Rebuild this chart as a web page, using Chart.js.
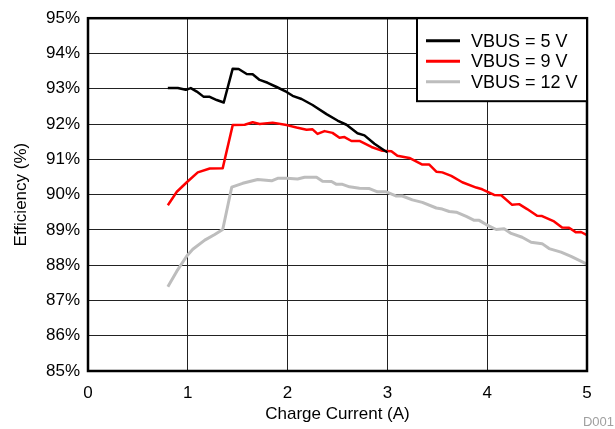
<!DOCTYPE html>
<html>
<head>
<meta charset="utf-8">
<script src="https://cdn.jsdelivr.net/npm/chart.js@4.4.1/dist/chart.umd.min.js"></script>
<style>
html,body{margin:0;padding:0;background:#fff;}
#wrap{width:615px;height:429px;position:relative;}
</style>
</head>
<body>
<div id="wrap"><canvas id="c" width="615" height="429"></canvas></div>
<script>
// ---- data ----
const seriesLabels = ["VBUS = 5 V", "VBUS = 9 V", "VBUS = 12 V"];

const x5V = [0.8,0.9,0.98,1.03,1.09,1.16,1.22,1.29,1.36,1.45,1.51,1.59,1.65,1.72,1.80,1.89,1.99,2.05,2.14,2.25,2.39,2.50,2.59,2.70,2.77,2.87,2.97,3.0];
const y5V = [93.02,93.02,92.97,93.02,92.92,92.77,92.77,92.68,92.61,93.57,93.56,93.42,93.41,93.25,93.17,93.05,92.91,92.80,92.71,92.54,92.28,92.10,91.98,91.74,91.68,91.44,91.25,91.2];

const x9V = [0.8,0.89,0.99,1.10,1.22,1.35,1.45,1.57,1.65,1.72,1.85,1.99,2.09,2.19,2.25,2.30,2.37,2.45,2.52,2.57,2.64,2.72,2.84,2.95,3.04,3.10,3.22,3.35,3.42,3.49,3.55,3.64,3.75,3.89,3.95,4.07,4.14,4.25,4.32,4.40,4.50,4.55,4.67,4.75,4.82,4.89,4.94,5.0];
const y9V = [89.7,90.08,90.35,90.63,90.74,90.75,91.97,91.98,92.05,92.0,92.04,91.97,91.9,91.84,91.85,91.72,91.80,91.75,91.61,91.63,91.52,91.52,91.35,91.24,91.23,91.10,91.04,90.85,90.85,90.65,90.63,90.53,90.35,90.2,90.15,89.99,89.98,89.71,89.73,89.59,89.40,89.39,89.24,89.07,89.06,88.93,88.94,88.85];

const x12V = [0.8,0.89,0.99,1.05,1.17,1.27,1.35,1.44,1.55,1.70,1.84,1.90,1.99,2.10,2.17,2.29,2.35,2.44,2.49,2.55,2.62,2.72,2.82,2.90,2.99,3.09,3.15,3.25,3.35,3.49,3.55,3.62,3.69,3.79,3.87,3.92,3.99,4.09,4.17,4.24,4.35,4.44,4.55,4.62,4.74,4.84,5.0];
const y12V = [87.39,87.83,88.26,88.45,88.71,88.87,89.01,90.21,90.32,90.43,90.39,90.46,90.46,90.44,90.49,90.49,90.38,90.37,90.29,90.29,90.22,90.18,90.17,90.08,90.08,89.96,89.96,89.85,89.78,89.62,89.59,89.52,89.50,89.38,89.27,89.27,89.15,89.01,89.03,88.90,88.79,88.65,88.61,88.47,88.37,88.25,88.03];

const xTitle = "Charge Current (A)";
const yTitle = "Efficiency (%)";
const xMin = 0, xMax = 5, yMin = 85, yMax = 95;
const footnote = "D001";

const zip = (xs, ys) => xs.map((x, i) => ({x: x, y: ys[i]}));

const FONT = "'Liberation Sans', Arial, Helvetica, sans-serif";

const frameLegendPlugin = {
  id: 'frameLegend',
  afterDraw(chart) {
    const ctx = chart.ctx;
    const a = chart.chartArea;
    ctx.save();
    // plot frame
    ctx.strokeStyle = '#000';
    ctx.lineWidth = 2.5;
    ctx.strokeRect(a.left, a.top, a.right - a.left, a.bottom - a.top);
    // legend box (top-right inside plot)
    const bw = 170, bh = 83;
    const bx = a.right - bw, by = a.top;
    ctx.fillStyle = '#fff';
    ctx.fillRect(bx, by, bw, bh);
    ctx.lineWidth = 2;
    ctx.strokeRect(bx, by, bw, bh);
    ctx.font = "18px " + FONT;
    ctx.textBaseline = 'middle';
    ctx.textAlign = 'left';
    chart.data.datasets.forEach((ds, i) => {
      const yy = by + 22.5 + i * 20.5;
      ctx.strokeStyle = ds.borderColor;
      ctx.lineWidth = 3;
      ctx.beginPath();
      ctx.moveTo(bx + 9, yy);
      ctx.lineTo(bx + 43, yy);
      ctx.stroke();
      ctx.fillStyle = '#000';
      ctx.fillText(ds.label, bx + 54, yy + 1);
    });
    // footnote
    ctx.font = "13px " + FONT;
    ctx.fillStyle = '#a0a0a0';
    ctx.textAlign = 'right';
    ctx.fillText(footnote, 614, 422);
    ctx.restore();
  }
};

new Chart(document.getElementById('c'), {
  type: 'line',
  data: {
    datasets: [
      {label: seriesLabels[0], data: zip(x5V, y5V), borderColor: '#000000', borderWidth: 2.5},
      {label: seriesLabels[1], data: zip(x9V, y9V), borderColor: '#ff0000', borderWidth: 2.5},
      {label: seriesLabels[2], data: zip(x12V, y12V), borderColor: '#bdbdbd', borderWidth: 3}
    ]
  },
  options: {
    responsive: false,
    animation: false,
    devicePixelRatio: 1,
    parsing: true,
    elements: {point: {radius: 0}, line: {tension: 0, borderJoinStyle: 'round'}},
    layout: {padding: {top: 15, right: 28, left: 0, bottom: 0}},
    plugins: {legend: {display: false}, tooltip: {enabled: false}},
    scales: {
      x: {
        type: 'linear', min: xMin, max: xMax,
        afterFit(s) { s.height = 58; },
        ticks: {stepSize: 1, color: '#000', font: {family: FONT, size: 17}, padding: 12},
        grid: {color: '#222', lineWidth: 1, drawTicks: false},
        border: {display: false},
        title: {display: true, text: xTitle, color: '#000', font: {family: FONT, size: 17}, padding: {top: 0, bottom: 4}}
      },
      y: {
        type: 'linear', min: yMin, max: yMax,
        afterFit(s) { s.width = 88; },
        ticks: {stepSize: 1, color: '#000', font: {family: FONT, size: 17}, padding: 8,
                callback: v => v + '%'},
        grid: {color: '#222', lineWidth: 1, drawTicks: false},
        border: {display: false},
        title: {display: true, text: yTitle, color: '#000', font: {family: FONT, size: 17}, padding: {top: 11, bottom: 0}}
      }
    }
  },
  plugins: [frameLegendPlugin]
});
</script>
</body>
</html>
